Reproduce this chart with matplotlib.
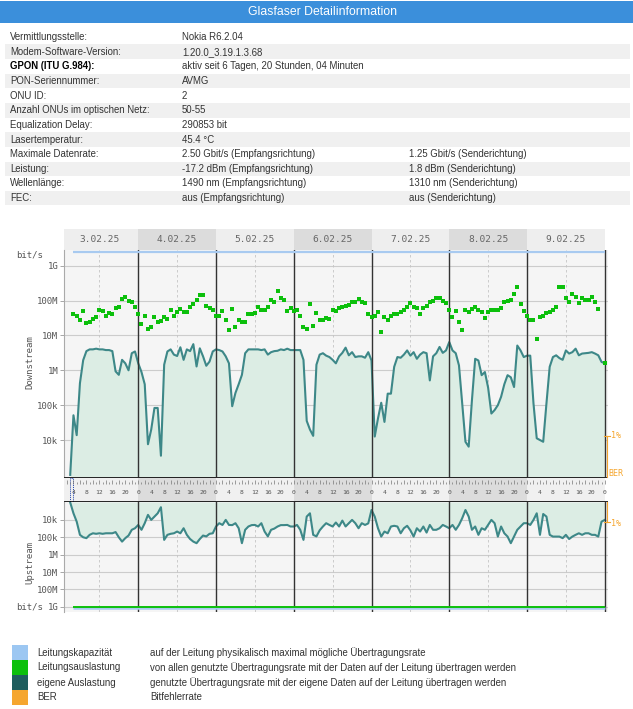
import numpy as np
import matplotlib
matplotlib.use("Agg")
import matplotlib.pyplot as plt
from matplotlib.patches import Rectangle
from matplotlib.lines import Line2D

################################################
# Table data

row_labels = ["Vermittlungsstelle:", "Modem-Software-Version:", "GPON (ITU G.984):",
              "PON-Seriennummer:", "ONU ID:", "Anzahl ONUs im optischen Netz:",
              "Equalization Delay:", "Lasertemperatur:", "Maximale Datenrate:",
              "Leistung:", "Wellenlänge:", "FEC:"]
row_values = ["Nokia R6.2.04", "1.20.0_3.19.1.3.68", "aktiv seit 6 Tagen, 20 Stunden, 04 Minuten",
              "AVMG", "2", "50-55", "290853 bit", "45.4 °C",
              "2.50 Gbit/s (Empfangsrichtung)", "-17.2 dBm (Empfangsrichtung)",
              "1490 nm (Empfangsrichtung)", "aus (Empfangsrichtung)"]
row_values_up = ["", "", "", "", "", "", "", "",
                 "1.25 Gbit/s (Senderichtung)", "1.8 dBm (Senderichtung)",
                 "1310 nm (Senderichtung)", "aus (Senderichtung)"]

################################################
# Chart data (hours counted from 3.02.25 00:00)

days = ["3.02.25", "4.02.25", "5.02.25", "6.02.25", "7.02.25", "8.02.25", "9.02.25"]

# Leitungsauslastung downstream, Mbit/s, one dot per hour from hour 4
down_used_start = 4
down_used_mbit = [
    40, 35, 28, 49, 22, 24, 29, 33, 54, 49,
    37, 43, 41, 62, 67, 112, 125, 100, 89, 67,
    40, 21, 37, 15.5, 18, 33, 24, 26, 33, 30,
    54, 37, 46, 58, 46, 46, 67, 80, 105, 148,
    148, 72, 62, 52, 37, 37, 49, 28, 14.5, 58,
    18, 27, 25, 24, 40, 41, 43, 67, 52, 54,
    67, 105, 89, 186, 120, 105, 49, 62, 49, 54,
    37, 17, 15.5, 80, 19, 43, 27, 28, 32, 30,
    54, 49, 62, 67, 72, 77, 89, 89, 112, 89,
    83, 41, 33, 37, 46, 12.5, 33, 27, 37, 40,
    41, 46, 52, 67, 83, 67, 62, 41, 62, 72,
    89, 100, 120, 120, 100, 83, 54, 33, 49, 24,
    14.5, 54, 46, 58, 64, 54, 46, 32, 46, 52,
    54, 54, 62, 89, 100, 105, 155, 250, 80, 49,
    35, 28, 28, 8, 33, 37, 43, 46, 54, 67,
    240, 240, 120, 89, 155, 130, 83, 120, 105, 105,
    130, 89, 58, np.nan, 1.6]

# eigene Auslastung, log10(bit/s), hourly from hour 3
own_start = 3
down_own_log10 = [
    3.0, 4.71, 4.14, 5.63, 6.29, 6.55, 6.6, 6.6, 6.62, 6.6,
    6.6, 6.58, 6.58, 6.55, 5.97, 5.87, 6.3, 6.2, 6.0, 6.49,
    6.54, 6.2, 5.95, 5.6, 3.88, 4.3, 4.92, 4.92, 3.55, 6.16,
    6.54, 6.6, 6.45, 6.41, 6.66, 6.3, 6.6, 6.55, 6.75, 6.11,
    6.63, 6.4, 6.13, 6.25, 6.54, 6.6, 6.58, 6.54, 6.4, 6.2,
    4.97, 5.35, 5.6, 5.87, 6.49, 6.6, 6.6, 6.6, 6.6, 6.58,
    6.6, 6.45, 6.52, 6.55, 6.56, 6.6, 6.58, 6.62, 6.58, 6.58,
    6.58, 6.58, 6.3, 4.55, 4.3, 4.12, 6.16, 6.45, 6.49, 6.42,
    6.38, 6.3, 6.2, 6.4, 6.5, 6.65, 6.43, 6.52, 6.38, 6.4,
    6.4, 6.36, 6.52, 6.28, 4.1, 4.62, 5.07, 4.52, 5.33, 5.33,
    6.1, 6.38, 6.36, 6.45, 6.57, 6.42, 6.52, 6.33, 6.45, 6.52,
    6.49, 5.71, 6.4, 6.49, 6.67, 6.5, 6.57, 6.81, 6.57, 6.49,
    6.14, 5.05, 3.95, 3.81, 5.14, 6.33, 6.28, 5.86, 5.95, 5.5,
    4.76, 4.86, 5.0, 5.24, 5.6, 5.86, 5.8, 5.52, 6.71, 6.57,
    6.38, 6.42, 6.42, 5.05, 4.05, 4.0, 3.95, 5.05, 6.1, 6.38,
    6.43, 6.35, 6.3, 6.57, 6.48, 6.52, 6.62, 6.43, 6.48, 6.49,
    6.5, 6.52, 6.48, 6.43, 6.24, 6.2]

up_own_log10 = [
    3.0, 3.62, 4.1, 4.86, 5.0, 5.05, 4.86, 4.77, 4.8, 4.77,
    4.8, 4.77, 4.77, 4.77, 4.7, 5.0, 5.25, 5.05, 4.9, 4.57,
    4.48, 4.29, 4.57, 4.19, 3.71, 4.0, 3.81, 3.62, 3.27, 5.15,
    4.86, 4.8, 4.77, 4.67, 4.77, 4.48, 4.86, 5.1, 5.25, 5.34,
    5.1, 4.9, 4.95, 4.8, 4.77, 4.38, 4.19, 4.29, 4.0, 4.29,
    4.3, 4.19, 4.48, 5.34, 4.57, 4.38, 4.3, 4.29, 4.38, 4.19,
    4.67, 4.95, 4.57, 4.5, 4.38, 4.3, 4.3, 4.29, 4.38, 4.38,
    4.29, 4.57, 5.15, 3.81, 3.62, 4.86, 4.95, 4.6, 4.38, 4.19,
    4.29, 4.38, 4.15, 4.38, 4.04, 4.38, 4.19, 4.0, 4.19, 4.48,
    4.19, 4.29, 4.2, 3.43, 3.81, 4.48, 4.96, 4.67, 4.77, 4.38,
    4.34, 4.38, 4.77, 4.48, 4.34, 4.6, 4.96, 4.48, 4.67, 4.38,
    4.73, 4.29, 4.57, 4.57, 4.48, 4.29, 4.38, 4.48, 4.29, 4.57,
    4.29, 3.9, 3.43, 3.81, 4.57, 4.38, 4.86, 4.48, 4.57, 4.29,
    4.0, 4.19, 4.96, 4.38, 4.77, 4.96, 5.34, 4.96, 4.57, 4.38,
    4.19, 4.19, 4.29, 4.0, 3.62, 4.86, 3.66, 3.81, 4.86, 4.96,
    4.96, 4.96, 5.05, 4.86, 5.1, 4.96, 4.86, 4.77, 4.86, 4.77,
    4.77, 4.86, 4.86, 4.96, 4.1, 4.0]

cap_start = 4
cap_end = 168
down_capacity = 2.5e9
up_capacity = 1.25e9
up_line_load = 1.0e9

# legend
legend_colors = ["#9cc7f2", "#0cc00c", "#1f5e5e", "#f5a62f"]
legend_names = ["Leitungskapazität", "Leitungsauslastung", "eigene Auslastung", "BER"]
legend_texts = ["auf der Leitung physikalisch maximal mögliche Übertragungsrate",
                "von allen genutzte Übertragungsrate mit der Daten auf der Leitung übertragen werden",
                "genutzte Übertragungsrate mit der eigene Daten auf der Leitung übertragen werden",
                "Bitfehlerrate"]

################################################
# Figure helpers (pixel positions)

W, H = 633, 709
fig = plt.figure(figsize=(W / 100, H / 100), dpi=100)
fig.patch.set_facecolor("white")

def box(x0, y0, x1, y1):
    return [x0 / W, 1 - y1 / H, (x1 - x0) / W, (y1 - y0) / H]

def ftext(x, y, s, **kw):
    fig.text(x / W, 1 - y / H, s, **kw)

def rect(x0, y0, x1, y1, color):
    fig.add_artist(Rectangle((x0 / W, 1 - y1 / H), (x1 - x0) / W, (y1 - y0) / H,
                             transform=fig.transFigure, facecolor=color, edgecolor="none", zorder=0))

SANS = "Liberation Sans"
MONO = "DejaVu Sans Mono"
TXT = "#333333"

################################################
# Header and table

rect(0, 1, W, 23, "#3b8fdb")
ftext(323, 12, "Glasfaser Detailinformation", color="white", fontsize=8.8,
      family=SANS, ha="center", va="center")

for i in range(len(row_labels)):
    yc = 37 + 14.65 * i
    if i % 2 == 1:
        rect(5, yc - 7.3, 630, yc + 7.3, "#f0f0f0")
    bold = row_labels[i].startswith("GPON")
    ftext(10, yc, row_labels[i], fontsize=6.9, family=SANS, va="center",
          color="black" if bold else TXT, weight="bold" if bold else "normal")
    ftext(182, yc, row_values[i], fontsize=6.9, family=SANS, va="center", color=TXT)
    if row_values_up[i]:
        ftext(409, yc, row_values_up[i], fontsize=6.9, family=SANS, va="center", color=TXT)

################################################
# Chart axes

XLIM = (1.08, 169.0)
DOWN_LIM = (10 ** 2.94, 10 ** 9.45)
UP_LIM = (10 ** 2.97, 10 ** 9.3)
FILL = "#dcede4"
LINE = "#3d8888"
GREEN = "#0cc00c"
BLUE = "#a8caf0"
ORANGE = "#f5a62f"

ax_date = fig.add_axes(box(64, 229, 608, 250))
ax_down = fig.add_axes(box(64, 250, 608, 477))
ax_strip = fig.add_axes(box(64, 477, 608, 502))
ax_up = fig.add_axes(box(64, 502, 608, 612))

for ax in (ax_date, ax_down, ax_strip, ax_up):
    ax.set_xlim(*XLIM)
    ax.set_xticks([])
    for s in ax.spines.values():
        s.set_visible(False)

# date band
for k, d in enumerate(days):
    ax_date.axvspan(24 * k, 24 * (k + 1), color="#eeeeee" if k % 2 == 0 else "#dcdcdc", lw=0)
    ax_date.text(24 * k + 12, 0.5, d, ha="center", va="center", fontsize=6.8,
                 family=MONO, color="#666666")
ax_date.set_ylim(0, 1)
ax_date.set_yticks([])

down_ticks = [1e4, 1e5, 1e6, 1e7, 1e8, 1e9]
tick_names = ["10k", "100k", "1M", "10M", "100M", "1G"]

for ax, lim in ((ax_down, DOWN_LIM), (ax_up, UP_LIM)):
    ax.set_facecolor("#f5f5f5")
    ax.set_yscale("log")
    ax.set_ylim(*lim)
    ax.set_yticks(down_ticks)
    ax.set_yticklabels(tick_names, family=MONO, fontsize=6.5, color="#555555")
    ax.minorticks_off()
    ax.tick_params(axis="y", length=3, width=0.6, color="#999999", pad=1)
    ax.spines["left"].set_visible(True)
    ax.spines["left"].set_color("#aaaaaa")
    for t in down_ticks:
        ax.axhline(t, color="#cccccc", lw=0.8, zorder=1)
    for k in range(7):
        ax.axvline(24 * k + 12, color="#c4c4c4", lw=0.6, ls=(0, (3, 3)), zorder=1)
    for k in range(1, 8):
        ax.axvline(24 * k, color="#333333", lw=1.0, zorder=4)

ax_up.invert_yaxis()

# downstream series
own_hours = np.arange(own_start, own_start + len(down_own_log10))
down_own = 10 ** np.array(down_own_log10)
ax_down.fill_between(own_hours, DOWN_LIM[0], down_own, color=FILL, lw=0, zorder=2)
ax_down.plot(own_hours, down_own, color=LINE, lw=1.5, zorder=3)

used_hours = np.arange(down_used_start, down_used_start + len(down_used_mbit))
ax_down.plot(used_hours, np.array(down_used_mbit) * 1e6, ls="none", marker="s",
             ms=2.5, mew=0, color=GREEN, zorder=5)
ax_down.hlines(down_capacity, cap_start, cap_end, color=BLUE, lw=1.6, zorder=5)

# upstream series
up_own = 10 ** np.array(up_own_log10)
ax_up.fill_between(own_hours, UP_LIM[0], up_own, color=FILL, lw=0, zorder=2)
ax_up.plot(own_hours, up_own, color=LINE, lw=1.5, zorder=3)
ax_up.hlines(up_capacity, cap_start, cap_end, color=BLUE, lw=1.8, zorder=5)
ax_up.hlines(up_line_load, cap_start, cap_end, color=GREEN, lw=1.4, zorder=6)

# hour strip
for k in range(7):
    ax_strip.axvspan(24 * k, 24 * (k + 1), color="#f0f0f0" if k % 2 == 0 else "#dcdcdc", lw=0)
    for hh in range(0, 24, 4):
        if 24 * k + hh > XLIM[0]:
            ax_strip.text(24 * k + hh, 0.4, str(hh), ha="center", va="center",
                          fontsize=4.6, family=MONO, color="#555555")
ax_strip.text(168, 0.4, "0", ha="center", va="center", fontsize=4.6, family=MONO, color="#555555")
hrs = np.arange(2, 169)
ax_strip.vlines(hrs, 0.72, np.where(hrs % 2 == 0, 0.9, 0.82), color="#777777", lw=0.5)
ax_strip.set_ylim(0, 1)
ax_strip.set_yticks([])
ax_strip.add_patch(Rectangle((3, 0.02), 1, 0.96, fill=False, edgecolor="#2244aa",
                             lw=0.7, ls=(0, (1, 1))))
for y in (0.0, 1.0):
    ax_strip.axhline(y, color="black", lw=1.2)

# axis captions
ftext(30, 255, "bit/s", fontsize=6.5, family=MONO, color="#555555", ha="center", va="center")
ftext(30, 362, "Downstream", fontsize=6.5, family=MONO, color="#555555",
      ha="center", va="center", rotation=90)
ftext(30, 563, "Upstream", fontsize=6.5, family=MONO, color="#555555",
      ha="center", va="center", rotation=90)
ftext(30, 607, "bit/s", fontsize=6.5, family=MONO, color="#555555", ha="center", va="center")

# BER scale marks
def fline(x0, y0, x1, y1):
    fig.add_artist(Line2D([x0 / W, x1 / W], [1 - y0 / H, 1 - y1 / H],
                          transform=fig.transFigure, color=ORANGE, lw=0.8))

fline(607, 436, 607, 477)
fline(604, 436, 610, 436)
fline(607, 502, 607, 522)
fline(604, 522, 610, 522)
ftext(611, 435, "1%", fontsize=6, family=MONO, color=ORANGE, va="center")
ftext(608, 473, "BER", fontsize=6, family=MONO, color=ORANGE, va="center")
ftext(611, 524, "1%", fontsize=6, family=MONO, color=ORANGE, va="center")

################################################
# Legend

for i in range(len(legend_names)):
    y0 = 645 + 15 * i
    rect(12, y0, 28, y0 + 15, legend_colors[i])
    ftext(37, y0 + 7.5, legend_names[i], fontsize=6.9, family=SANS, va="center", color=TXT)
    ftext(150, y0 + 7.5, legend_texts[i], fontsize=6.9, family=SANS, va="center", color=TXT)

fig.savefig("out.png", dpi=100)
